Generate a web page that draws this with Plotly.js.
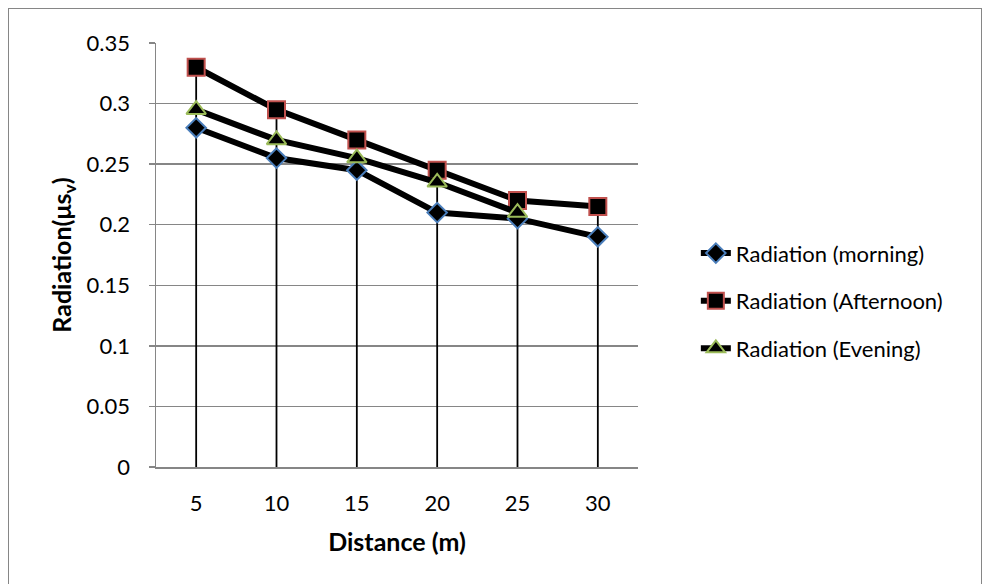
<!DOCTYPE html>
<html>
<head>
<meta charset="utf-8">
<script src="https://cdn.plot.ly/plotly-3.0.1.min.js"></script>
<style>
html,body{margin:0;padding:0;background:#fff;}
#wrap{position:relative;width:989px;height:584px;overflow:hidden;}
#chart{width:989px;height:584px;}
#frame{position:absolute;left:8px;top:8px;width:972px;height:620px;border:1px solid #868686;pointer-events:none;}
</style>
</head>
<body>
<div id="wrap"><div id="chart"></div><div id="frame"></div></div>
<script>
const categories = ['5', '10', '15', '20', '25', '30'];
const morning = [0.28, 0.255, 0.245, 0.21, 0.205, 0.19];
const afternoon = [0.33, 0.295, 0.27, 0.245, 0.22, 0.215];
const evening = [0.295, 0.27, 0.255, 0.235, 0.21, null];
const seriesNames = ['Radiation (morning)', 'Radiation (Afternoon)', 'Radiation (Evening)'];
const yTicks = [0, 0.05, 0.1, 0.15, 0.2, 0.25, 0.3, 0.35];
const yTickText = ['0', '0.05', '0.1', '0.15', '0.2', '0.25', '0.3', '0.35'];

const font = 'Lato, "Open Sans", sans-serif';
const fs = 22;
const tfs = 25;

// drop lines from the highest point of each category down to the axis
const dropX = [], dropY = [];
categories.forEach((c, i) => {
  const vals = [morning[i], afternoon[i], evening[i]].filter(v => v !== null);
  dropX.push(c, c, null);
  dropY.push(0, Math.max(...vals), null);
});

const traces = [
  {x: dropX, y: dropY, mode: 'lines', line: {color: '#000', width: 1.8}, showlegend: false, hoverinfo: 'skip'},
  {x: categories, y: morning, name: seriesNames[0], legendgroup: 'a', mode: 'lines+markers',
   line: {color: '#000', width: 6},
   marker: {symbol: 'diamond', size: 15, color: '#000', line: {color: '#4a7ebb', width: 2}}},
  {x: categories, y: afternoon, name: seriesNames[1], legendgroup: 'b', mode: 'lines+markers',
   line: {color: '#000', width: 6},
   marker: {symbol: 'square', size: 17, color: '#000', line: {color: '#c0504d', width: 2}}},
  {x: categories, y: evening, name: seriesNames[2], legendgroup: 'c', mode: 'lines+markers',
   line: {color: '#000', width: 6},
   marker: {symbol: 'triangle-up', size: 17, color: '#000', line: {color: '#9bbb59', width: 2}}}
];

const layout = {
  width: 989, height: 584,
  margin: {l: 156, r: 351, t: 43, b: 117},
  paper_bgcolor: '#fff', plot_bgcolor: '#fff',
  font: {family: font, size: fs, color: '#000'},
  showlegend: true,
  legend: {x: 1.12, y: 0.392, xanchor: 'left', yanchor: 'middle',
           font: {family: font, size: fs, color: '#000'},
           tracegroupgap: 16, bgcolor: 'rgba(0,0,0,0)'},
  xaxis: {
    type: 'category', range: [-0.5, 5.5],
    showgrid: false, zeroline: false,
    showline: true, linecolor: '#868686', linewidth: 1.5,
    ticks: '', ticklabelstandoff: 16,
    tickfont: {family: font, size: fs, color: '#000'},
    title: {text: '<b>Distance (m)</b>', font: {family: font, size: tfs, color: '#000'}, standoff: 18}
  },
  yaxis: {
    range: [0, 0.35],
    tickvals: yTicks, ticktext: yTickText,
    showgrid: true, gridcolor: '#868686', gridwidth: 1.3,
    zeroline: false,
    showline: true, linecolor: '#868686', linewidth: 1.5,
    ticks: 'outside', ticklen: 6, tickcolor: '#868686', tickwidth: 1.5,
    ticklabelstandoff: 14,
    tickfont: {family: font, size: fs, color: '#000'},
    title: {text: '<b>Radiation(μs<sub>v</sub>)</b>', font: {family: font, size: tfs, color: '#000'}, standoff: 8}
  }
};

Plotly.newPlot('chart', traces, layout, {displayModeBar: false, staticPlot: true});
</script>
</body>
</html>
